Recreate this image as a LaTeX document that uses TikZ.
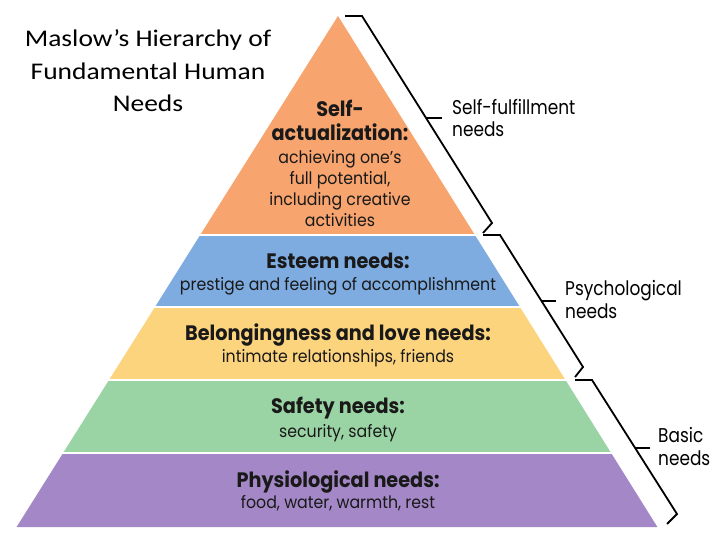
\documentclass[tikz,border=0pt]{standalone}
\usepackage{fontspec}
\setmainfont{Poppins}
\newfontfamily\pyrfont[FakeStretch=0.92]{Poppins}
\newfontfamily\sidefont[FakeStretch=0.85]{Poppins}
\newfontfamily\titlefont[FakeStretch=1.15]{Carlito}
\definecolor{cOrange}{RGB}{247,164,110}
\definecolor{cBlue}{RGB}{126,172,224}
\definecolor{cYellow}{RGB}{253,212,126}
\definecolor{cGreen}{RGB}{155,212,164}
\definecolor{cPurple}{RGB}{163,135,198}
\definecolor{cText}{RGB}{25,25,25}
\begin{document}
\begin{tikzpicture}[x=1bp,y=-1bp,
  head/.style={anchor=base,inner sep=0pt,text=cText,font=\pyrfont\fontsize{21}{24}\selectfont\bfseries},
  body/.style={anchor=base,inner sep=0pt,text=cText,font=\pyrfont\fontsize{17.2}{20}\selectfont},
  side/.style={anchor=base west,inner sep=0pt,text=black,font=\sidefont\fontsize{20}{24}\selectfont},
  ttl/.style={anchor=base,inner sep=0pt,text=black,font=\titlefont\fontsize{24}{28}\selectfont},
  brace/.style={draw=black,line width=1.8bp,line join=miter},
  sep/.style={draw=white,line width=1.5bp}]
\useasboundingbox (0,0) rectangle (720,540);
\fill[white] (0,0) rectangle (720,540);
% bands
\fill[cOrange] (338,16) -- (474.9,235) -- (200.2,235) -- cycle;
\fill[cBlue] (200.2,235) -- (474.9,235) -- (519.9,307) -- (155.0,307) -- cycle;
\fill[cYellow] (155.0,307) -- (519.9,307) -- (565.5,380) -- (109.0,380) -- cycle;
\fill[cGreen] (109.0,380) -- (565.5,380) -- (611.1,453) -- (63.1,453) -- cycle;
\fill[cPurple] (63.1,453) -- (611.1,453) -- (657.4,527) -- (16.6,527) -- cycle;
\draw[sep] (198,235) -- (477,235);
\draw[sep] (153,307) -- (522,307);
\draw[sep] (107,380) -- (568,380);
\draw[sep] (61,453) -- (613,453);
% title
\node[ttl] (t1) at (148,47) {Maslow’s Hierarchy of};
\node[ttl] (t2) at (148,80) {Fundamental Human};
\node[ttl] (t3) at (148,112) {Needs};
% pyramid texts
\node[head] (sa1) at (340,117) {Self-};
\node[head] (sa2) at (340,141) {actualization:};
\node[body] (sa3) at (340,164) {achieving one’s};
\node[body] (sa4) at (340,185) {full potential,};
\node[body] (sa5) at (340,206) {including creative};
\node[body] (sa6) at (340,227) {activities};
\node[head] (es1) at (338,269) {Esteem needs:};
\node[body] (es2) at (338,290) {prestige and feeling of accomplishment};
\node[head] (be1) at (338,340) {Belongingness and love needs:};
\node[body] (be2) at (338,362) {intimate relationships, friends};
\node[head] (sf1) at (338,413) {Safety needs:};
\node[body] (sf2) at (338,437) {security, safety};
\node[head] (ph1) at (338,487) {Physiological needs:};
\node[body] (ph2) at (338,508) {food, water, warmth, rest};
% braces
\draw[brace] (345,16) -- (362,16) -- (492,223) -- (483,233);
\draw[brace] (426,118) -- (442,118);
\draw[brace] (483,235) -- (500,235) -- (583,367) -- (575,377);
\draw[brace] (541,301) -- (556,301);
\draw[brace] (575,380) -- (592,380) -- (677,514) -- (667,524);
\draw[brace] (635,448) -- (650,448);
% side labels
\node[side] (l1a) at (452,115) {Self-fulfillment};
\node[side] (l1b) at (452,137) {needs};
\node[side] (l2a) at (565,295) {Psychological};
\node[side] (l2b) at (565,318) {needs};
\node[side] (l3a) at (658,442) {Basic};
\node[side] (l3b) at (658,465) {needs};
\end{tikzpicture}
\end{document}
